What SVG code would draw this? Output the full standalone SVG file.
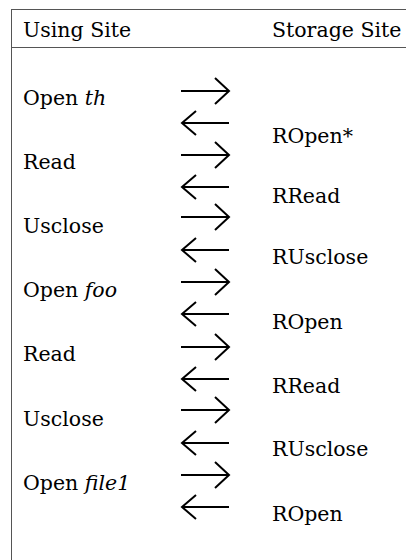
<svg xmlns="http://www.w3.org/2000/svg" width="406" height="560" viewBox="0 0 406 560">
<style>
.t{font-family:"DejaVu Serif",serif;font-size:20.5px;fill:#000}
.i{font-style:italic}
.rule{stroke:#555;stroke-width:1;fill:none}
.arr{stroke:#000;stroke-width:2;fill:none;stroke-linecap:butt}
</style>
<rect width="406" height="560" fill="#fff"/>
<g id="table">
<line class="rule" x1="11" y1="9.5" x2="406" y2="9.5"/>
<line class="rule" x1="11" y1="47.5" x2="406" y2="47.5"/>
<line class="rule" x1="11.5" y1="9" x2="11.5" y2="560"/>
</g>
<g class="t">
<g id="header">
<text x="23" y="37">Using Site</text>
<text x="272" y="37">Storage Site</text>
</g>
<g id="using">
<text x="23" y="105">Open <tspan class="i">th</tspan></text>
<text x="23" y="169">Read</text>
<text x="23" y="233">Usclose</text>
<text x="23" y="297">Open <tspan class="i">foo</tspan></text>
<text x="23" y="361">Read</text>
<text x="23" y="426">Usclose</text>
<text x="23" y="490">Open <tspan class="i">file1</tspan></text>
</g>
<g id="storage">
<text x="272" y="143">ROpen*</text>
<text x="272" y="203">RRead</text>
<text x="272" y="264">RUsclose</text>
<text x="272" y="329">ROpen</text>
<text x="272" y="393">RRead</text>
<text x="272" y="456">RUsclose</text>
<text x="272" y="521">ROpen</text>
</g>
</g>
<defs>
<path id="ra" d="M181,0H229M215,-13L229,0L215,13"/>
<path id="la" d="M182,0H229M196,-12L182,0L196,12"/>
</defs>
<g id="connectors" class="arr">
<use href="#ra" y="91"/>
<use href="#la" y="123"/>
<use href="#ra" y="155"/>
<use href="#la" y="187"/>
<use href="#ra" y="217"/>
<use href="#la" y="250"/>
<use href="#ra" y="282"/>
<use href="#la" y="314"/>
<use href="#ra" y="347"/>
<use href="#la" y="379"/>
<use href="#ra" y="410"/>
<use href="#la" y="443"/>
<use href="#ra" y="475"/>
<use href="#la" y="507"/>
</g>
</svg>
